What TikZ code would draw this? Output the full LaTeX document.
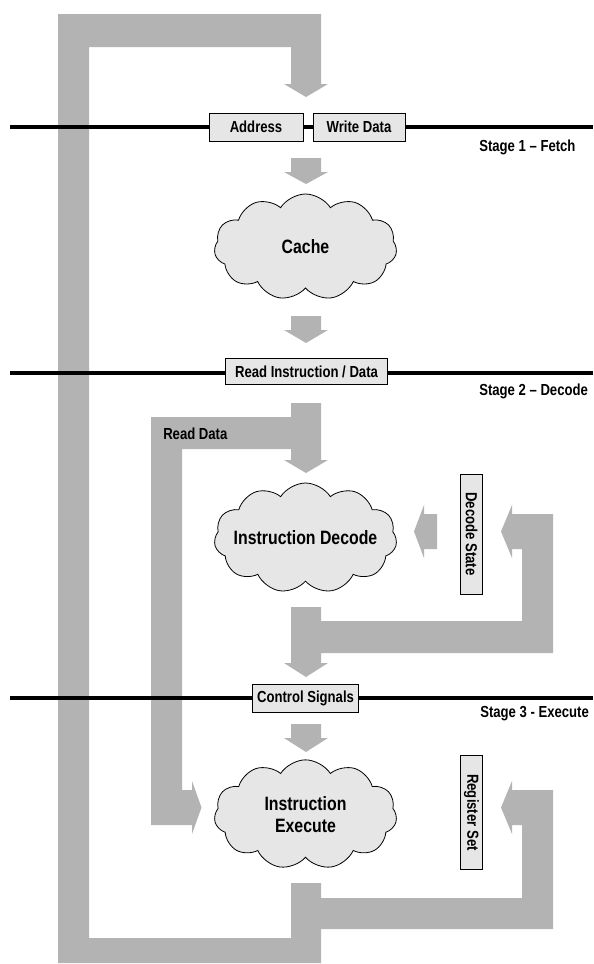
\documentclass[tikz,border=0pt]{standalone}
\usepackage{fontspec}
\setmainfont{Liberation Sans}[FakeStretch=0.82]
\usetikzlibrary{shapes.symbols}
\definecolor{bandgray}{RGB}{179,179,179}
\definecolor{boxgray}{RGB}{230,230,230}
\tikzset{
	band/.style={fill=bandgray, draw=none},
	lbl/.style={font=\bfseries\fontsize{12}{14}\selectfont, inner sep=0pt},
	regbox/.style={lbl, draw=black, line width=0.75pt, fill=boxgray, minimum height=21pt},
	unit/.style={cloud, cloud puffs=11, cloud puff arc=115, cloud ignores aspect, draw=black, line width=0.6pt, fill=boxgray, align=center, inner sep=0pt, minimum width=137pt, font=\bfseries\fontsize{14.5}{16}\selectfont},
	stageline/.style={line width=2.4pt}
}
\newcommand{\fatdown}[3]{\fill[band] (291,#1) -- (321,#1) -- (321,#2) -- (328,#2) -- (306,#3) -- (284,#2) -- (291,#2) -- cycle;}
\newcommand{\fatleft}[2]{\fill[band] (437,#1-17.5) -- (424,#1-17.5) -- (424,#1-26.5) -- (414,#1) -- (424,#1+26.5) -- (424,#1+17.5) -- (437,#1+17.5) -- cycle;}

\begin{document}
\begin{tikzpicture}[x=0.75pt, y=-0.75pt]
	\useasboundingbox (0,0) rectangle (593,964);
	\fill[band] (291,883) -- (321,883) -- (321,963) -- (58,963) -- (58,14) -- (321,14) -- (321,84) -- (328,84) -- (306,97) -- (284,84) -- (291,84) -- (291,47) -- (89,47) -- (89,938) -- (291,938) -- cycle;
	\fill[band] (321,898) -- (522,898) -- (522,825) -- (512,825) -- (512,834) -- (501,807.5) -- (512,781) -- (512,790) -- (553,790) -- (553,929) -- (321,929) -- cycle;
	\fill[band] (291,607) -- (321,607) -- (321,621) -- (522,621) -- (522,549) -- (512,549) -- (512,558) -- (501,531.5) -- (512,505) -- (512,514) -- (553,514) -- (553,653) -- (321,653) -- (321,663) -- (328,663) -- (306,677) -- (284,663) -- (291,663) -- cycle;
	\fill[band] (291,403) -- (321,403) -- (321,460) -- (328,460) -- (306,473) -- (284,460) -- (291,460) -- (291,449) -- (182,449) -- (182,790) -- (192,790) -- (192,781) -- (201.5,807.5) -- (192,834) -- (192,825) -- (151,825) -- (151,417) -- (291,417) -- cycle;
	\fatdown{158}{172}{184}
	\fatdown{316}{330}{343}
	\fatdown{724}{738}{752}
	\fatleft{531.5}
	\fatleft{807.5}

	\draw[stageline] (10,127) -- (593,127);
	\draw[stageline] (10,373) -- (593,373);
	\draw[stageline] (10,698) -- (593,698);

	\node[regbox, minimum width=70.5pt] (addr) at (256,127) {Address};
	\node[regbox, minimum width=69pt] (wdata) at (359,127) {Write Data};
	\node[regbox, minimum width=121pt, minimum height=20pt] (rinst) at (306.5,371.5) {Read Instruction / Data};
	\node[regbox, minimum width=80pt] (ctrl) at (305.5,698) {Control Signals};
	\node[regbox, rotate=-90, minimum width=90pt, minimum height=17pt] (dstate) at (471.5,534) {Decode State};
	\node[regbox, rotate=-90, minimum width=86pt, minimum height=17pt] (regset) at (471.5,812.5) {Register Set};

	\node[unit, minimum height=79.5pt] (cache) at (305.5,247) {Cache};
	\node[unit, inner xsep=-16pt, minimum height=82.5pt] (idecode) at (305.5,538) {Instruction Decode};
	\node[unit, minimum height=82pt] (iexec) at (305.5,814.5) {Instruction\\Execute};

	\node[lbl, anchor=west] (stage1) at (479,147) {Stage 1 -- Fetch};
	\node[lbl, anchor=west] (stage2) at (479,391) {Stage 2 -- Decode};
	\node[lbl, anchor=west] (stage3) at (480,714) {Stage 3 - Execute};
	\node[lbl, anchor=west] (rdata) at (163,434) {Read Data};
\end{tikzpicture}
\end{document}
